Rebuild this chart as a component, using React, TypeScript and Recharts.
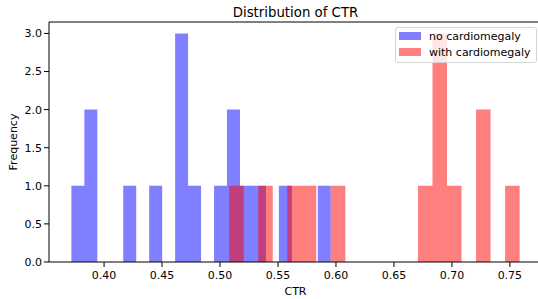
import {
  Area,
  ComposedChart,
  Legend,
  ReferenceLine,
  XAxis,
  YAxis
} from "recharts";

// histogram bin ranges and counts (20 bins each)
const noCardioRange = [0.3718, 0.5955];
const noCardioCounts = [1, 2, 0, 0, 1, 0, 1, 0, 3, 1, 0, 1, 2, 1, 1, 0, 1, 0, 0, 1];
const withCardioRange = [0.5079, 0.7584];
const withCardioCounts = [1, 0, 1, 0, 1, 1, 0, 1, 0, 0, 0, 0, 0, 1, 3, 1, 0, 2, 0, 1];

const xTicks = [0.4, 0.45, 0.5, 0.55, 0.6, 0.65, 0.7, 0.75];
const yTicks = [0, 0.5, 1, 1.5, 2, 2.5, 3];

const seriesNames = ["no cardiomegaly", "with cardiomegaly"];

const FONT = "'DejaVu Sans', sans-serif";
const X_DOMAIN: [number, number] = [0.3525, 0.7777];
const Y_MAX = 3.15;

// bin edges -> step points (last edge repeats the last count)
const toSteps = (range: number[], counts: number[]) => {
  const w = (range[1] - range[0]) / counts.length;
  const pts = counts.map((c, i) => ({ x: range[0] + i * w, count: c }));
  pts.push({ x: range[1], count: counts[counts.length - 1] });
  return pts;
};

const noCardioData = toSteps(noCardioRange, noCardioCounts);
const withCardioData = toSteps(withCardioRange, withCardioCounts);

const swatches = ["#8080ff", "#ff8080"];

const LegendBox = () => (
  <div
    style={{
      position: "relative",
      boxSizing: "border-box",
      width: 142,
      height: 36,
      border: "1px solid #d4d4d4",
      borderRadius: 3,
      background: "rgba(255,255,255,0.8)",
      fontFamily: FONT,
      fontSize: 11,
      color: "#000"
    }}
  >
    {seriesNames.map((name, i) => (
      <div
        key={name}
        style={{
          position: "absolute",
          left: 3,
          top: i * 16,
          height: 16,
          display: "flex",
          alignItems: "center",
          whiteSpace: "nowrap"
        }}
      >
        <span
          style={{
            display: "inline-block",
            width: 22,
            height: 7.5,
            background: swatches[i],
            marginRight: 8
          }}
        />
        <span>{name}</span>
      </div>
    ))}
  </div>
);

const App = () => {
  return (
    <div
      style={{
        position: "absolute",
        left: 0,
        top: 0,
        width: 538,
        height: 299,
        overflow: "hidden",
        background: "#fff",
        fontFamily: FONT
      }}
    >
      <ComposedChart width={542} height={299} margin={{ top: 22, right: 0, bottom: 0, left: 0 }}>
        <XAxis
          dataKey="x"
          type="number"
          domain={X_DOMAIN}
          allowDataOverflow
          ticks={xTicks}
          tickFormatter={(v: number) => v.toFixed(2)}
          height={37}
          tickSize={5}
          tickMargin={4}
          stroke="#000"
          tick={{ fontSize: 11, fill: "#000" }}
          label={{ value: "CTR", position: "insideBottom", offset: 4, fontSize: 11, fill: "#000" }}
        />
        <YAxis
          type="number"
          domain={[0, Y_MAX]}
          allowDataOverflow
          ticks={yTicks}
          tickFormatter={(v: number) => v.toFixed(1)}
          width={49}
          tickSize={5}
          tickMargin={2}
          stroke="#000"
          tick={{ fontSize: 11, fill: "#000" }}
        />
        <ReferenceLine y={Y_MAX} stroke="#000" />
        <Area
          data={noCardioData}
          dataKey="count"
          type="stepAfter"
          fill="#0000ff"
          fillOpacity={0.5}
          stroke="none"
          dot={false}
          activeDot={false}
          isAnimationActive={false}
          name={seriesNames[0]}
        />
        <Area
          data={withCardioData}
          dataKey="count"
          type="stepAfter"
          fill="#ff0000"
          fillOpacity={0.5}
          stroke="none"
          dot={false}
          activeDot={false}
          isAnimationActive={false}
          name={seriesNames[1]}
        />
        <Legend
          layout="vertical"
          align="center"
          verticalAlign="middle"
          content={<LegendBox />}
          wrapperStyle={{ top: 27, left: 395, width: 142, height: 36 }}
        />
      </ComposedChart>
      <svg
        width={538}
        height={299}
        style={{ position: "absolute", left: 0, top: 0, pointerEvents: "none" }}
      >
        <text x={295.5} y={16.7} textAnchor="middle" fontSize={13.3} fill="#000" fontFamily={FONT}>
          Distribution of CTR
        </text>
        <text
          x={13.3}
          y={142}
          textAnchor="middle"
          dominantBaseline="central"
          fontSize={11}
          fill="#000"
          fontFamily={FONT}
          transform="rotate(-90, 13.3, 142)"
        >
          Frequency
        </text>
      </svg>
    </div>
  );
};

export default App;
